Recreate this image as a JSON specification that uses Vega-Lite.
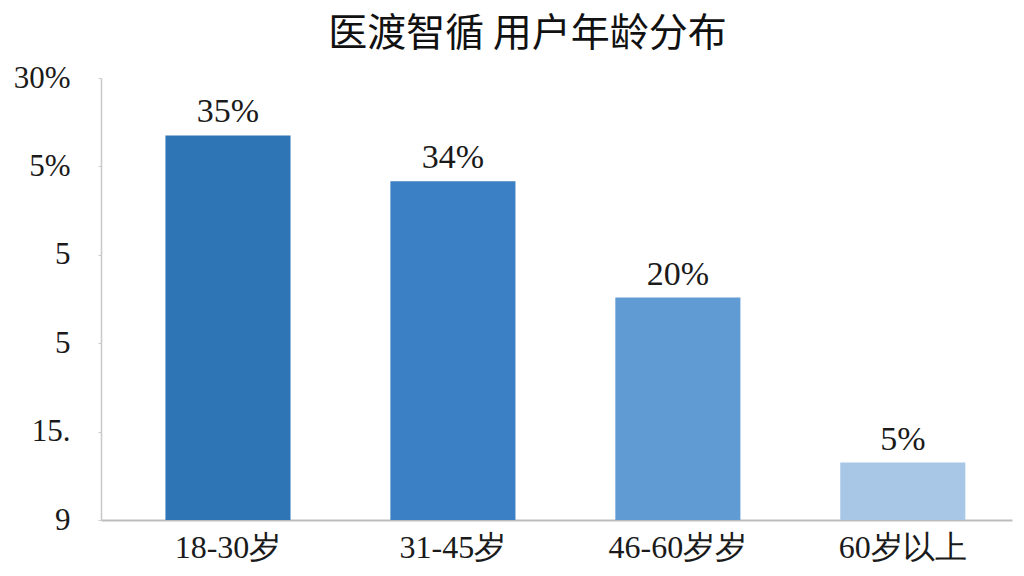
{
  "$schema": "https://vega.github.io/schema/vega-lite/v6.json",
  "width": 911,
  "height": 442,
  "autosize": {"type": "none"},
  "padding": {"left": 101, "top": 78, "right": 12, "bottom": 56},
  "background": "white",
  "config": {"view": {"stroke": null}},
  "title": {
    "text": "医渡智循 用户年龄分布",
    "font": "Noto Sans CJK SC",
    "fontSize": 39,
    "fontWeight": "normal",
    "color": "#111111",
    "anchor": "middle",
    "frame": "group",
    "dx": -29,
    "offset": 8
  },
  "data": {
    "values": [
      {"group": "18-30岁", "height": 26.1, "label": "35%", "color": "#2e75b6"},
      {"group": "31-45岁", "height": 23.0, "label": "34%", "color": "#3b7fc4"},
      {"group": "46-60岁岁", "height": 15.1, "label": "20%", "color": "#609bd3"},
      {"group": "60岁以上", "height": 3.9, "label": "5%", "color": "#a8c7e7"}
    ]
  },
  "encoding": {
    "x": {
      "field": "group",
      "type": "nominal",
      "sort": null,
      "scale": {"paddingInner": 0.444, "paddingOuter": 0.247, "align": 0.58},
      "axis": {
        "title": null,
        "labelAngle": 0,
        "labelFont": "Liberation Serif",
        "labelFontSize": 32,
        "labelColor": "#1a1a1a",
        "labelPadding": 12,
        "ticks": false,
        "domainColor": "#bdbdbd",
        "domainWidth": 2
      }
    },
    "y": {
      "field": "height",
      "type": "quantitative",
      "scale": {"domain": [0, 30], "nice": false},
      "axis": {
        "title": null,
        "grid": false,
        "values": [0, 6, 12, 18, 24, 30],
        "labelExpr": "datum.value == 30 ? '30%' : datum.value == 24 ? '5%' : datum.value == 18 ? '5' : datum.value == 12 ? '5' : datum.value == 6 ? '15.' : '9'",
        "labelFont": "Liberation Serif",
        "labelFontSize": 31,
        "labelColor": "#1a1a1a",
        "labelPadding": 28,
        "tickSize": 3,
        "tickColor": "#cccccc",
        "domainColor": "#c8c8c8",
        "domainWidth": 1.5
      }
    }
  },
  "layer": [
    {
      "mark": {"type": "bar"},
      "encoding": {
        "color": {"field": "color", "type": "nominal", "scale": null}
      }
    },
    {
      "mark": {
        "type": "text",
        "baseline": "alphabetic",
        "dy": -13,
        "font": "Liberation Serif",
        "fontSize": 34,
        "color": "#1a1a1a"
      },
      "encoding": {
        "text": {"field": "label", "type": "nominal"}
      }
    }
  ]
}
